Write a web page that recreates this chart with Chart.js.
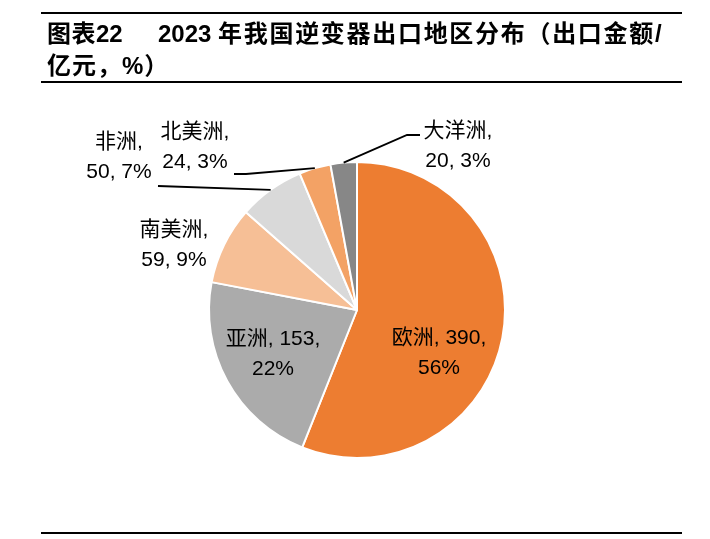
<!DOCTYPE html>
<html>
<head>
<meta charset="utf-8">
<script src="https://cdn.jsdelivr.net/npm/chart.js"></script>
<style>
  body { margin: 0; background: #fff; }
  #wrap { position: relative; width: 710px; height: 539px; overflow: hidden; }
  #pie { position: absolute; left: 0; top: 0; }
  .rule { position: absolute; left: 41px; width: 641px; height: 2px; background: #000; }
  .ttl { position: absolute; font-family: "Liberation Sans", "Noto Sans CJK SC", sans-serif;
         font-weight: bold; font-size: 24px; line-height: 32px; color: #000; letter-spacing: 1.7px; white-space: nowrap; }
  .num { letter-spacing: 0; }
</style>
</head>
<body>
<div id="wrap">
  <canvas id="pie" width="710" height="539"></canvas>
  <div class="rule" style="top:12px"></div>
  <div class="rule" style="top:81px"></div>
  <div class="rule" style="top:532px"></div>
  <div class="ttl" style="left:47px; top:18px; letter-spacing:0.5px">图表<span class="num">22</span></div>
  <div class="ttl" style="left:158px; top:18px"><span class="num">2023 </span>年我国逆变器出口地区分布（出口金额/</div>
  <div class="ttl" style="left:47px; top:50px; letter-spacing:1px">亿元，%）</div>
</div>
<script>
"use strict";
// 2023年逆变器出口地区分布 (亿元)
const regions = ['欧洲', '亚洲', '南美洲', '非洲', '北美洲', '大洋洲'];
const amounts = [390, 153, 59, 50, 24, 20];
const percents = [56, 22, 9, 7, 3, 3];
const sliceColors = ['#ED7D31', '#ABABAB', '#F6BF96', '#D9D9D9', '#F3A265', '#878787'];

// label centre offsets from the pie centre, plus leader-line points
const labelLayout = [
  { dx: 82, dy: 43, lines: i => [regions[i] + ', ' + amounts[i] + ',', percents[i] + '%'] },
  { dx: -84, dy: 44, lines: i => [regions[i] + ', ' + amounts[i] + ',', percents[i] + '%'] },
  { dx: -183, dy: -65, lines: i => [regions[i] + ',', amounts[i] + ', ' + percents[i] + '%'] },
  { dx: -238, dy: -153, lines: i => [regions[i] + ',', amounts[i] + ', ' + percents[i] + '%'],
    leader: [[-199, -124]] },
  { dx: -162, dy: -163, lines: i => [regions[i] + ',', amounts[i] + ', ' + percents[i] + '%'],
    leader: [[-111, -136], [-123, -136]] },
  { dx: 101, dy: -164, lines: i => [regions[i] + ',', amounts[i] + ', ' + percents[i] + '%'],
    leader: [[50, -175], [63, -175]] }
];

const pieLabels = {
  id: 'pieLabels',
  afterDatasetsDraw(chart) {
    const ctx = chart.ctx;
    const arcs = chart.getDatasetMeta(0).data;
    ctx.save();
    ctx.font = '21px "Liberation Sans", "Noto Sans CJK SC", sans-serif';
    ctx.fillStyle = '#000';
    ctx.textAlign = 'center';
    ctx.textBaseline = 'middle';
    arcs.forEach((arc, i) => {
      const p = arc.getProps(['x', 'y', 'startAngle', 'endAngle', 'outerRadius'], true);
      const lay = labelLayout[i];
      if (lay.leader) {
        const mid = (p.startAngle + p.endAngle) / 2;
        ctx.beginPath();
        ctx.strokeStyle = '#000';
        ctx.lineWidth = 1.8;
        ctx.moveTo(p.x + Math.cos(mid) * p.outerRadius, p.y + Math.sin(mid) * p.outerRadius);
        lay.leader.forEach(pt => ctx.lineTo(p.x + pt[0], p.y + pt[1]));
        ctx.stroke();
      }
      const txt = lay.lines(i);
      ctx.fillText(txt[0], p.x + lay.dx, p.y + lay.dy - 15);
      ctx.fillText(txt[1], p.x + lay.dx, p.y + lay.dy + 15);
    });
    ctx.restore();
  }
};

new Chart(document.getElementById('pie'), {
  type: 'pie',
  data: {
    labels: regions,
    datasets: [{
      data: amounts,
      backgroundColor: sliceColors,
      borderColor: '#fff',
      borderWidth: 2
    }]
  },
  options: {
    responsive: false,
    animation: false,
    layout: { padding: { left: 208, right: 204, top: 161, bottom: 80 } },
    plugins: {
      legend: { display: false },
      tooltip: { enabled: false }
    }
  },
  plugins: [pieLabels]
});
</script>
</body>
</html>
